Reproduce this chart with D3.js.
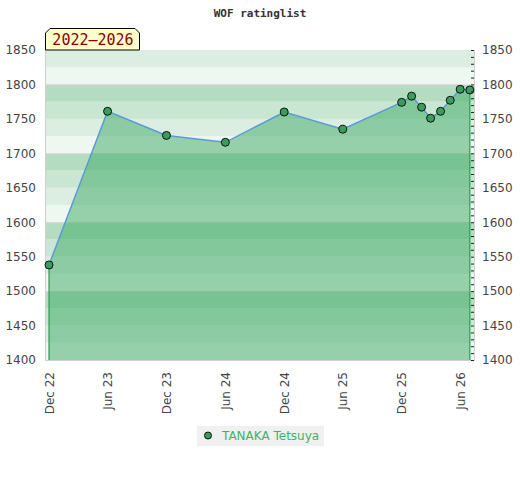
<!DOCTYPE html>
<html>
<head>
<meta charset="utf-8">
<script src="https://cdn.jsdelivr.net/npm/d3@7"></script>
<style>
  body { margin: 0; background: #fff; }
  .axis text { font-family: "DejaVu Sans", sans-serif; font-size: 12px; fill: #444; }
</style>
</head>
<body>
<script>
// data
const dates = ['2022-12-01', '2023-06-01', '2023-12-01', '2024-06-01', '2024-12-01', '2025-06-01',
  '2025-12-01', '2026-01-01', '2026-02-01', '2026-03-01', '2026-04-01', '2026-05-01', '2026-06-01', '2026-07-01'];
const ratings = [1538, 1761, 1726, 1716, 1760, 1735, 1774, 1783, 1767, 1751, 1761, 1777, 1793, 1792];
const xTicks = ['2022-12-01', '2023-06-01', '2023-12-01', '2024-06-01', '2024-12-01', '2025-06-01', '2025-12-01', '2026-06-01'];
const yTicks = [1400, 1450, 1500, 1550, 1600, 1650, 1700, 1750, 1800, 1850];
const playerName = 'TANAKA Tetsuya';
const periodLabel = '2022\u20132026';

const parse = d3.timeParse('%Y-%m-%d');
const data = dates.map((d, i) => ({ date: parse(d), rating: ratings[i] }));

const chartWidth = 520, chartHeight = 480;
const margin = { top: 50, right: 45, bottom: 120, left: 45 };
const width = chartWidth - margin.left - margin.right;
const height = chartHeight - margin.top - margin.bottom;

const svg = d3.select('body').append('svg')
  .attr('width', chartWidth)
  .attr('height', chartHeight);

svg.append('text')
  .attr('x', chartWidth / 2).attr('y', 17)
  .attr('text-anchor', 'middle')
  .style('font-family', '"DejaVu Sans Mono", monospace')
  .style('font-size', '11px').style('font-weight', 'bold')
  .attr('fill', '#333')
  .text('WOF ratinglist');

const g = svg.append('g').attr('transform', `translate(${margin.left},${margin.top})`);

const x = d3.scaleTime()
  .domain([new Date(2022, 10, 18, 12), new Date(2026, 6, 17)])
  .range([0, width]);
const y = d3.scaleLinear().domain([1400, 1850]).range([height, 0]);

// background bands, 25 points each
const bandColors = ['#eff7f1', '#dcede2', '#c8e6d1', '#b3dcc0'];
g.selectAll('rect.band')
  .data(d3.range(1400, 1850, 25))
  .enter().append('rect')
  .attr('class', 'band')
  .attr('x', 0).attr('width', width)
  .attr('y', d => y(d + 25))
  .attr('height', d => y(d) - y(d + 25))
  .attr('fill', (d, i) => bandColors[i % 4]);

g.selectAll('line.hund')
  .data([1500, 1600, 1700, 1800])
  .enter().append('line')
  .attr('x1', 0).attr('x2', width)
  .attr('y1', d => y(d) + 0.5).attr('y2', d => y(d) + 0.5)
  .attr('stroke', '#d6d6d6');

// frame
g.append('path')
  .attr('d', `M0.5,0V${height + 0.5}H${width - 0.5}V0`)
  .attr('fill', 'none').attr('stroke', '#d0d0d0');

const area = d3.area()
  .x(d => x(d.date))
  .y0(y(1400))
  .y1(d => y(d.rating));

g.append('path')
  .datum(data)
  .attr('d', area)
  .attr('fill', 'rgb(60,170,100)')
  .attr('fill-opacity', 0.5);

// side edges of the area
const first = data[0], last = data[data.length - 1];
g.selectAll('line.edge')
  .data([first, last])
  .enter().append('line')
  .attr('x1', d => x(d.date)).attr('x2', d => x(d.date))
  .attr('y1', d => y(d.rating)).attr('y2', height)
  .attr('stroke', '#2f9a55').attr('stroke-width', 1.2);

g.append('path')
  .datum(data)
  .attr('d', d3.line().x(d => x(d.date)).y(d => y(d.rating)))
  .attr('fill', 'none')
  .attr('stroke', '#5b9bd5')
  .attr('stroke-width', 1.5);

g.selectAll('circle.pt')
  .data(data)
  .enter().append('circle')
  .attr('cx', d => x(d.date)).attr('cy', d => y(d.rating))
  .attr('r', 4)
  .attr('fill', '#3a9d5d')
  .attr('stroke', '#111').attr('stroke-width', 1);

// axes
const yAxis = d3.axisLeft(y).tickValues(yTicks).tickSize(0).tickPadding(9)
  .tickFormat(d3.format('d'));
g.append('g').attr('class', 'axis').call(yAxis).call(s => s.select('.domain').remove());

const yAxisR = d3.axisRight(y)
  .tickValues(d3.range(1400, 1851, 10))
  .tickSize(3).tickPadding(7)
  .tickFormat(d => d % 50 === 0 ? d : '');
g.append('g').attr('class', 'axis')
  .attr('transform', `translate(${width - 4},0)`)
  .call(yAxisR)
  .call(s => s.select('.domain').remove())
  .call(s => s.selectAll('line').attr('stroke', '#222'))
  .call(s => s.selectAll('text').attr('x', 11));

const xAxis = d3.axisBottom(x)
  .tickValues(xTicks.map(parse))
  .tickSize(0)
  .tickFormat(d3.timeFormat('%b %y'));
g.append('g').attr('class', 'axis')
  .attr('transform', `translate(0,${height})`)
  .call(xAxis)
  .call(s => s.select('.domain').remove())
  .selectAll('text')
  .attr('transform', 'rotate(-90)')
  .attr('text-anchor', 'end')
  .attr('x', -12).attr('y', 0).attr('dy', '0.35em');

// period label box with cut top corners
const box = svg.append('g').attr('transform', 'translate(45,28)');
box.append('path')
  .attr('d', 'M0.5,22V5L5,0.5H90L94.5,5V22Z')
  .attr('fill', '#ffffcc').attr('stroke', '#000');
box.append('text')
  .attr('x', 48).attr('y', 17)
  .attr('text-anchor', 'middle')
  .style('font-family', '"DejaVu Sans Mono", monospace')
  .style('font-size', '15px')
  .attr('fill', '#8b0000')
  .text(periodLabel);

// legend
const leg = svg.append('g').attr('transform', 'translate(197,426)');
leg.append('rect').attr('width', 127).attr('height', 20).attr('fill', '#f0f0f0');
leg.append('circle').attr('cx', 11).attr('cy', 9.5).attr('r', 3.5)
  .attr('fill', '#3a9d5d').attr('stroke', '#111');
leg.append('text').attr('x', 25).attr('y', 14)
  .style('font-family', '"DejaVu Sans", sans-serif').style('font-size', '12px')
  .attr('fill', '#3cb36a')
  .text(playerName);
</script>
</body>
</html>
